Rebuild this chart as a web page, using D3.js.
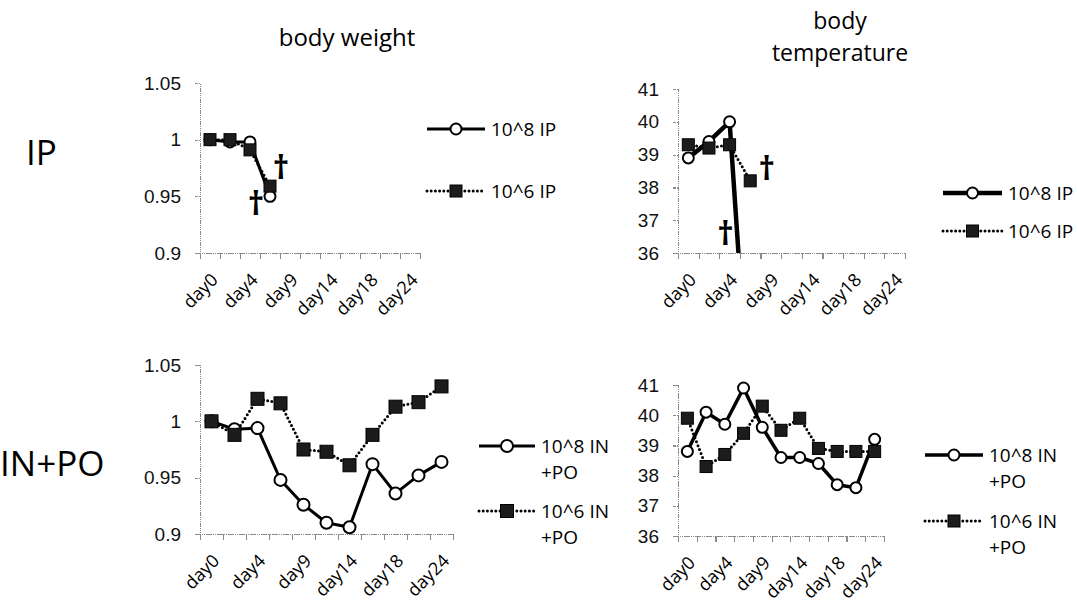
<!DOCTYPE html>
<html>
<head>
<meta charset="utf-8">
<script src="https://d3js.org/d3.v7.min.js"></script>
<style>
body { margin: 0; background: #fff; }
svg { font-family: 'Open Sans', sans-serif; }
.axis line, .axis path { stroke: #8a8a8a; stroke-width: 1.2; stroke-dasharray: 1.5,0.7; shape-rendering: crispEdges; }
.tick text { fill: #111; }
</style>
</head>
<body>
<div id="chart"></div>
<script>
// categories (only every other one is labelled on the axis)
const xLabels = ["day0", "", "day4", "", "day9", "", "day14", "", "day18", "", "day24"];

const weightTicks = [0.9, 0.95, 1, 1.05];
const tempTicks = [36, 37, 38, 39, 40, 41];

// IP group
const ipWeight8 = [1.000, 0.998, 0.998, 0.950];
const ipWeight6 = [1.000, 1.000, 0.991, 0.959];
const ipTemp8 = [38.9, 39.4, 40.0, 30.7];
const ipTemp6 = [39.3, 39.2, 39.3, 38.2];

// IN+PO group
const inpoWeight8 = [1.000, 0.993, 0.994, 0.948, 0.926, 0.910, 0.906, 0.962, 0.936, 0.952, 0.964];
const inpoWeight6 = [1.000, 0.988, 1.020, 1.016, 0.975, 0.973, 0.961, 0.988, 1.013, 1.017, 1.031];
const inpoTemp8 = [38.8, 40.1, 39.7, 40.9, 39.6, 38.6, 38.6, 38.4, 37.7, 37.6, 39.2];
const inpoTemp6 = [39.9, 38.3, 38.7, 39.4, 40.3, 39.5, 39.9, 38.9, 38.8, 38.8, 38.8];

// death marks (category position, value)
const ipWeightDeaths = [[2.3, 0.9435], [3.55, 0.975]];
const ipTempDeaths = [[1.8, 36.6], [3.8, 38.57]];

const W = 1077, H = 610;
const svg = d3.select("#chart").append("svg")
    .attr("width", W)
    .attr("height", H);

const defs = svg.append("defs");

// titles and row labels
svg.append("text").attr("x", 347).attr("y", 46).attr("text-anchor", "middle")
    .style("font-size", "24px").text("body weight");
svg.append("text").attr("x", 840).attr("y", 29).attr("text-anchor", "middle")
    .style("font-size", "23px").text("body");
svg.append("text").attr("x", 840).attr("y", 61).attr("text-anchor", "middle")
    .style("font-size", "23px").text("temperature");
svg.append("text").attr("x", 26).attr("y", 165)
    .style("font-size", "35px").text("IP");
svg.append("text").attr("x", 0).attr("y", 476)
    .style("font-size", "35px").text("IN+PO");

let panelId = 0;

function drawPanel(p) {
    panelId++;
    const x = d3.scaleLinear().domain([0, xLabels.length]).range([p.x0, p.x1]);
    const y = d3.scaleLinear().domain(p.yDomain).range([p.yBottom, p.yTop]);
    const g = svg.append("g");

    // y axis
    g.append("g")
        .attr("class", "axis")
        .attr("transform", "translate(" + p.x0 + ",0)")
        .call(d3.axisLeft(y).tickValues(p.yTicks).tickSize(5).tickPadding(14)
            .tickFormat(d => String(d)))
        .call(a => a.selectAll("text").style("font-size", "19px"));

    // x axis: tick marks between categories
    g.append("g")
        .attr("class", "axis")
        .attr("transform", "translate(0," + p.yBottom + ")")
        .call(d3.axisBottom(x).tickValues(d3.range(0, xLabels.length + 1))
            .tickSize(6).tickFormat(""));

    // rotated category labels
    g.selectAll(".xlab")
        .data(xLabels.map((d, i) => ({ label: d, i: i })).filter(d => d.label !== ""))
        .enter().append("text")
        .attr("class", "xlab")
        .attr("text-anchor", "end")
        .attr("transform", d => "translate(" + (x(d.i + 0.5) + 9) + "," + (p.yBottom + 28) + ") rotate(-45)")
        .style("font-size", "18px")
        .text(d => d.label);

    // clip to plot area
    const clipId = "clip" + panelId;
    defs.append("clipPath").attr("id", clipId).append("rect")
        .attr("x", p.x0).attr("y", p.yTop - 10)
        .attr("width", p.x1 - p.x0 + 10).attr("height", p.yBottom - p.yTop + 10);

    const line = d3.line().x((d, i) => x(i + 0.5)).y(d => y(d));

    // series 10^8 : solid line, open circles
    g.append("path")
        .datum(p.s8)
        .attr("clip-path", "url(#" + clipId + ")")
        .attr("d", line)
        .attr("fill", "none")
        .attr("stroke", "#000")
        .attr("stroke-width", p.lw8 || 3)
        .attr("stroke-linejoin", "round");

    g.selectAll(".c8")
        .data(p.s8.map((v, i) => ({ v: v, i: i })).filter(d => d.v >= p.yDomain[0]))
        .enter().append("circle")
        .attr("cx", d => x(d.i + 0.5))
        .attr("cy", d => y(d.v))
        .attr("r", p.r)
        .attr("fill", "#fff")
        .attr("stroke", "#000")
        .attr("stroke-width", 2);

    // series 10^6 : dotted line, filled squares
    g.append("path")
        .datum(p.s6)
        .attr("d", line)
        .attr("fill", "none")
        .attr("stroke", "#000")
        .attr("stroke-width", 3)
        .attr("stroke-linecap", "round")
        .attr("stroke-dasharray", "0,4.2");

    g.selectAll(".s6")
        .data(p.s6.map((v, i) => ({ v: v, i: i })))
        .enter().append("rect")
        .attr("x", d => x(d.i + 0.5) - p.sq / 2)
        .attr("y", d => y(d.v) - p.sq / 2)
        .attr("width", p.sq)
        .attr("height", p.sq)
        .attr("fill", "#1c1c1c")
        .attr("stroke", "#000")
        .attr("stroke-width", 1);

    // death marks
    if (p.deaths) {
        g.selectAll(".dag")
            .data(p.deaths)
            .enter().append("text")
            .attr("x", d => x(d[0] + 0.5))
            .attr("y", d => y(d[1]))
            .attr("text-anchor", "middle")
            .attr("dy", "0.35em")
            .attr("fill", "#000")
            .style("font-size", "32px")
            .style("font-weight", "bold")
            .text("\u2020");
    }

    // legend
    p.legend.forEach(function (item, k) {
        const ly = item.y;
        const lg = g.append("g");
        lg.append("line")
            .attr("x1", p.lx0).attr("x2", p.lx1)
            .attr("y1", ly).attr("y2", ly)
            .attr("stroke", "#000")
            .attr("stroke-width", k === 0 ? (p.lw8 || 3) : 3)
            .attr("stroke-linecap", k === 0 ? "butt" : "round")
            .attr("stroke-dasharray", k === 0 ? null : "0,4.2");
        const mx = (p.lx0 + p.lx1) / 2;
        if (k === 0) {
            lg.append("circle").attr("cx", mx).attr("cy", ly).attr("r", p.r)
                .attr("fill", "#fff").attr("stroke", "#000").attr("stroke-width", 2);
        } else {
            lg.append("rect").attr("x", mx - p.sq / 2).attr("y", ly - p.sq / 2)
                .attr("width", p.sq).attr("height", p.sq)
                .attr("fill", "#1c1c1c").attr("stroke", "#000");
        }
        item.text.forEach(function (t, j) {
            lg.append("text")
                .attr("x", p.lx1 + 6)
                .attr("y", ly + j * 26)
                .attr("dy", "0.35em")
                .style("font-size", "19px")
                .text(t);
        });
    });
}

drawPanel({
    x0: 200, x1: 420, yTop: 83, yBottom: 253,
    yDomain: [0.9, 1.05], yTicks: weightTicks,
    s8: ipWeight8, s6: ipWeight6, r: 5.5, sq: 12,
    deaths: ipWeightDeaths,
    lx0: 427, lx1: 485,
    legend: [{ y: 129, text: ["10^8 IP"] }, { y: 191, text: ["10^6 IP"] }]
});

drawPanel({
    x0: 678, x1: 905, yTop: 89, yBottom: 253,
    yDomain: [36, 41], yTicks: tempTicks,
    s8: ipTemp8, s6: ipTemp6, r: 5.5, sq: 12, lw8: 4.5,
    deaths: ipTempDeaths,
    lx0: 943, lx1: 1002,
    legend: [{ y: 193, text: ["10^8 IP"] }, { y: 231, text: ["10^6 IP"] }]
});

drawPanel({
    x0: 200, x1: 453, yTop: 365, yBottom: 534,
    yDomain: [0.9, 1.05], yTicks: weightTicks,
    s8: inpoWeight8, s6: inpoWeight6, r: 6, sq: 13,
    lx0: 479, lx1: 535,
    legend: [{ y: 446, text: ["10^8 IN", "+PO"] }, { y: 511, text: ["10^6 IN", "+PO"] }]
});

drawPanel({
    x0: 678, x1: 884, yTop: 385, yBottom: 536,
    yDomain: [36, 41], yTicks: tempTicks,
    s8: inpoTemp8, s6: inpoTemp6, r: 5.5, sq: 12, lw8: 3.5,
    lx0: 925, lx1: 983,
    legend: [{ y: 455, text: ["10^8 IN", "+PO"] }, { y: 521, text: ["10^6 IN", "+PO"] }]
});
</script>
</body>
</html>
